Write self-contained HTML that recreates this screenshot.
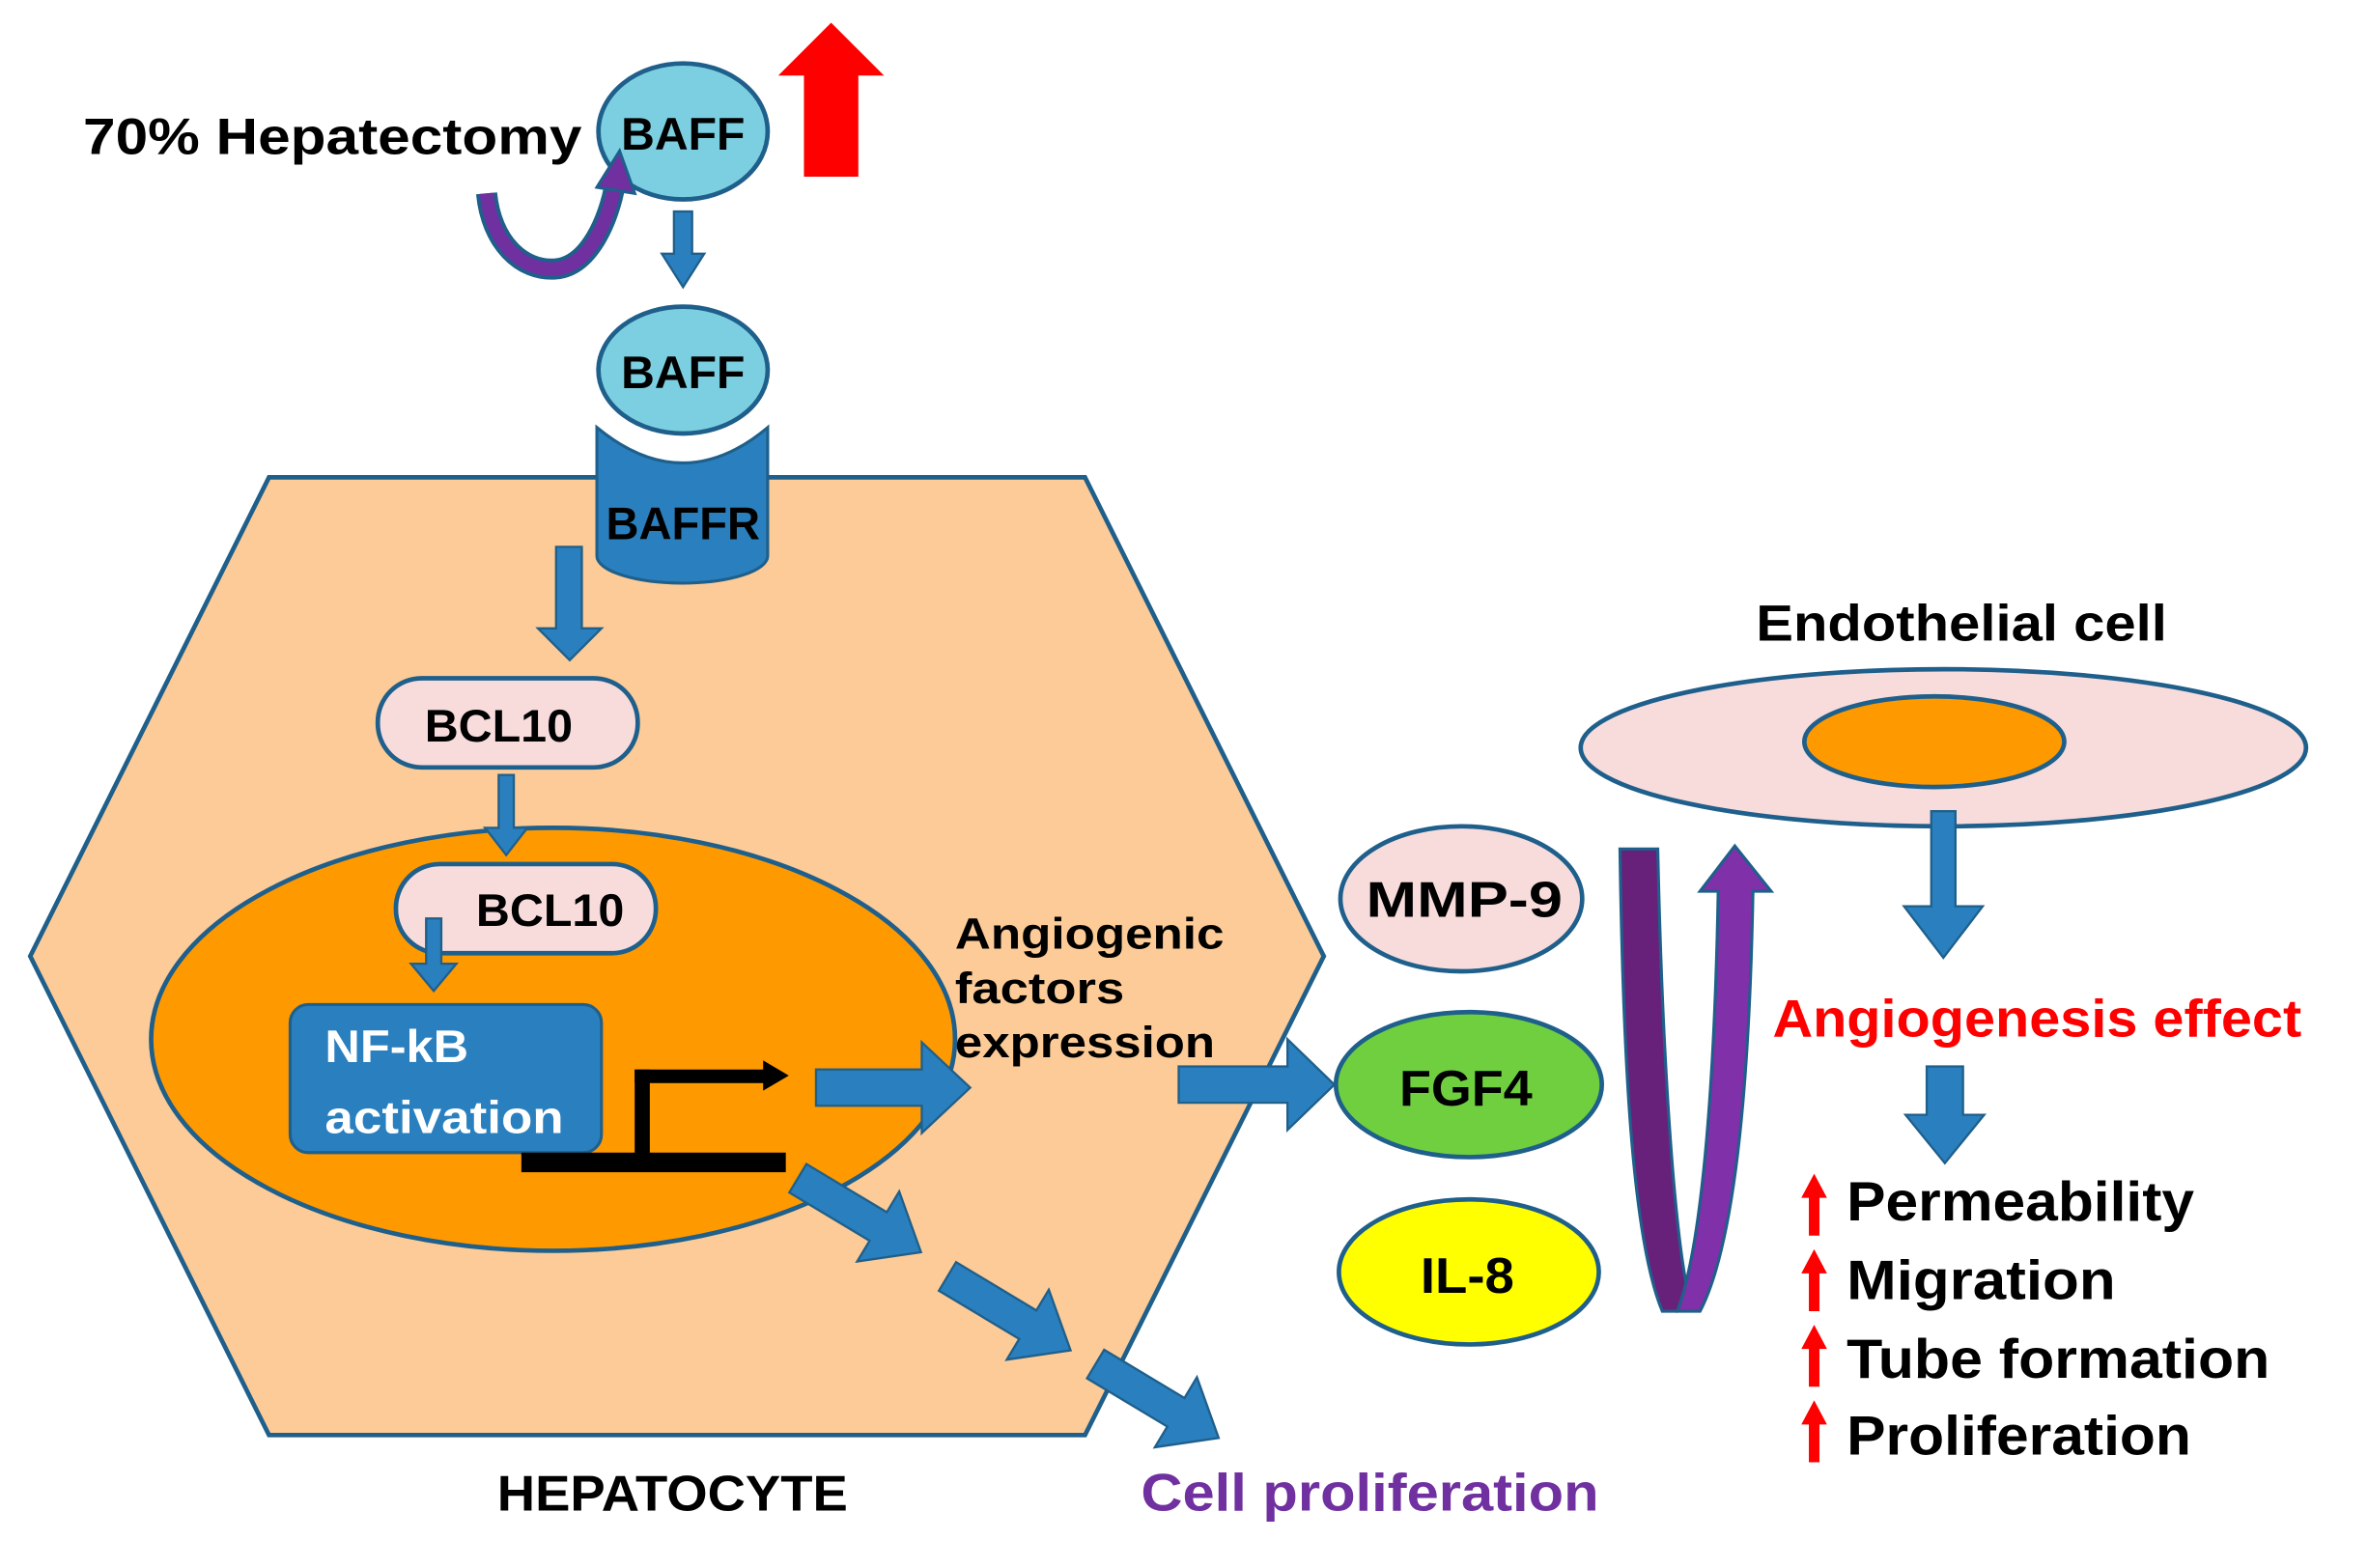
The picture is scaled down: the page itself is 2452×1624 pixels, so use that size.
<!DOCTYPE html>
<html><head><meta charset="utf-8"><style>
html,body{margin:0;padding:0;background:#fff;}
svg{display:block;}
text{font-family:"Liberation Sans",sans-serif;font-weight:bold;}
</style></head><body>
<svg width="2452" height="1624" viewBox="0 0 1567 1038" preserveAspectRatio="none" xmlns="http://www.w3.org/2000/svg">
<!-- hexagon -->
<polygon points="178,316 718,316 876,633 718,950 178,950 20,633" fill="#fccb97" stroke="#1f5f8b" stroke-width="3"/>
<!-- top text -->
<text x="55" y="102" font-size="34" textLength="330" lengthAdjust="spacingAndGlyphs">70% Hepatectomy</text>
<!-- BAFF top -->
<ellipse cx="452" cy="87" rx="56" ry="45" fill="#7ccfe0" stroke="#1f5f8b" stroke-width="3"/>
<text x="452" y="99" font-size="30" text-anchor="middle" textLength="82" lengthAdjust="spacingAndGlyphs">BAFF</text>
<!-- red arrow -->
<polygon points="532,117 568,117 568,50 585,50 550,15 515,50 532,50" fill="#ff0000"/>
<!-- purple curved arrow -->
<path d="M322,128 C325,160 345,180 368,178 C390,176 403,145 407,122" fill="none" stroke="#1f5f8b" stroke-width="14"/>
<path d="M322,128 C325,160 345,180 368,178 C390,176 403,145 407,122" fill="none" stroke="#7030a0" stroke-width="9"/>
<polygon points="395,124 410,100 420,128" fill="#7030a0" stroke="#1f5f8b" stroke-width="2"/>
<!-- arrow down -->
<polygon points="446,140 458,140 458,168 466,168 452,190 438,168 446,168" fill="#2a80bf" stroke="#1f5f8b" stroke-width="1.5"/>
<!-- BAFFR cylinder -->
<path d="M395,283 Q452,330 508,283 L508,368 A56.5,18 0 0 1 395,368 Z" fill="#2a80bf" stroke="#1f5f8b" stroke-width="2"/>
<text x="452" y="357" font-size="30" text-anchor="middle" textLength="102" lengthAdjust="spacingAndGlyphs">BAFFR</text>
<!-- BAFF 2 -->
<ellipse cx="452" cy="248" rx="62" ry="48" fill="#fff"/>
<ellipse cx="452" cy="245" rx="56" ry="42" fill="#7ccfe0" stroke="#1f5f8b" stroke-width="3"/>
<text x="452" y="257" font-size="30" text-anchor="middle" textLength="82" lengthAdjust="spacingAndGlyphs">BAFF</text>
<!-- arrow to BCL10 -->
<polygon points="368,362 385,362 385,416 398,416 377,437 356,416 368,416" fill="#2a80bf" stroke="#1f5f8b" stroke-width="1.5"/>
<rect x="250" y="449" width="172" height="59" rx="29" fill="#f8dcdc" stroke="#1f5f8b" stroke-width="3"/>
<text x="330" y="491" font-size="30" text-anchor="middle" textLength="98" lengthAdjust="spacingAndGlyphs">BCL10</text>
<!-- nucleus -->
<ellipse cx="366" cy="688" rx="266" ry="140" fill="#ff9900" stroke="#1f5f8b" stroke-width="3"/>
<polygon points="330,513 340,513 340,548 349,548 335,566 321,548 330,548" fill="#2a80bf" stroke="#1f5f8b" stroke-width="1.5"/>
<rect x="262" y="572" width="172" height="59" rx="29" fill="#f8dcdc" stroke="#1f5f8b" stroke-width="3"/>
<text x="364" y="613" font-size="30" text-anchor="middle" textLength="98" lengthAdjust="spacingAndGlyphs">BCL10</text>
<polygon points="282,608 292,608 292,638 302,638 287,656 272,638 282,638" fill="#2a80bf" stroke="#1f5f8b" stroke-width="1.5"/>
<rect x="192" y="665" width="206" height="98" rx="12" fill="#2a80bf" stroke="#1f5f8b" stroke-width="2"/>
<text x="215" y="703" font-size="30" fill="#fff" textLength="95" lengthAdjust="spacingAndGlyphs">NF-kB</text>
<text x="215" y="750" font-size="30" fill="#fff" textLength="158" lengthAdjust="spacingAndGlyphs">activation</text>
<!-- promoter -->
<rect x="345" y="763" width="175" height="13" fill="#000"/>
<rect x="420" y="708" width="10" height="60" fill="#000"/>
<rect x="420" y="708" width="88" height="9" fill="#000"/>
<polygon points="505,702 522,712 505,722" fill="#000"/>
<!-- arrow right -->
<polygon points="540,708 610,708 610,690 642,720 610,750 610,732 540,732" fill="#2a80bf" stroke="#1f5f8b" stroke-width="1.5"/>
<text font-size="29" textLength="178" lengthAdjust="spacingAndGlyphs" x="632" y="628">Angiogenic</text>
<text font-size="29" textLength="112" lengthAdjust="spacingAndGlyphs" x="632" y="664">factors</text>
<text font-size="29" textLength="172" lengthAdjust="spacingAndGlyphs" x="632" y="700">expression</text>
<polygon points="780,706 852,706 852,688 883,718 852,748 852,730 780,730" fill="#2a80bf" stroke="#1f5f8b" stroke-width="1.5"/>
<!-- diagonal arrows -->
<g fill="#2a80bf" stroke="#1f5f8b" stroke-width="1.5">
<polygon points="0,-11 62,-11 62,-27 95,0 62,27 62,11 0,11" transform="translate(528,780) rotate(31)"/>
<polygon points="0,-11 62,-11 62,-27 95,0 62,27 62,11 0,11" transform="translate(627,845) rotate(31)"/>
<polygon points="0,-11 62,-11 62,-27 95,0 62,27 62,11 0,11" transform="translate(725,903) rotate(31)"/>
</g>
<text x="445" y="1000" font-size="33" text-anchor="middle" textLength="232" lengthAdjust="spacingAndGlyphs">HEPATOCYTE</text>
<text x="755" y="1000" font-size="35" fill="#7030a0" textLength="303" lengthAdjust="spacingAndGlyphs">Cell proliferation</text>
<!-- factors -->
<ellipse cx="967" cy="595" rx="80" ry="48" fill="#f8dcdc" stroke="#1f5f8b" stroke-width="3"/>
<text x="969" y="607" font-size="33" text-anchor="middle" textLength="130" lengthAdjust="spacingAndGlyphs">MMP-9</text>
<ellipse cx="972" cy="718" rx="88" ry="48" fill="#6fcf3f" stroke="#1f5f8b" stroke-width="3"/>
<text x="970" y="732" font-size="33" text-anchor="middle" textLength="88" lengthAdjust="spacingAndGlyphs">FGF4</text>
<ellipse cx="972" cy="842" rx="86" ry="48" fill="#ffff00" stroke="#1f5f8b" stroke-width="3"/>
<text x="971" y="856" font-size="33" text-anchor="middle" textLength="62" lengthAdjust="spacingAndGlyphs">IL-8</text>
<!-- U arrow -->
<path d="M1072,562 L1097,562 C1100,700 1108,820 1118,860 L1110,868 L1100,868 C1080,820 1074,700 1072,562 Z" fill="#68217a" stroke="#1f5f8b" stroke-width="2"/>
<path d="M1110,868 C1128,820 1135,700 1137,590 L1125,590 L1148,560 L1172,590 L1160,590 C1158,700 1150,820 1125,868 Z" fill="#8030a8" stroke="#1f5f8b" stroke-width="2"/>
<!-- endothelial -->
<text x="1298" y="424" font-size="34" text-anchor="middle" textLength="272" lengthAdjust="spacingAndGlyphs">Endothelial cell</text>
<ellipse cx="1286" cy="495" rx="240" ry="52" fill="#f8dcdc" stroke="#1f5f8b" stroke-width="3"/>
<ellipse cx="1280" cy="491" rx="86" ry="30" fill="#ff9900" stroke="#1f5f8b" stroke-width="3"/>
<polygon points="1278,537 1294,537 1294,600 1312,600 1286,634 1260,600 1278,600" fill="#2a80bf" stroke="#1f5f8b" stroke-width="1.5"/>
<text x="1173" y="686" font-size="35" fill="#ff0000" textLength="350" lengthAdjust="spacingAndGlyphs">Angiogenesis effect</text>
<polygon points="1275,706 1299,706 1299,738 1313,738 1287,770 1261,738 1275,738" fill="#2a80bf" stroke="#1f5f8b" stroke-width="1.5"/>
<!-- list -->
<g fill="#ff0000">
<polygon points="1197,818 1204,818 1204,793 1209,793 1200.5,777 1192,793 1197,793"/>
<polygon points="1197,868 1204,868 1204,843 1209,843 1200.5,827 1192,843 1197,843"/>
<polygon points="1197,918 1204,918 1204,893 1209,893 1200.5,877 1192,893 1197,893"/>
<polygon points="1197,968 1204,968 1204,943 1209,943 1200.5,927 1192,943 1197,943"/>
</g>
<text x="1222" y="808" font-size="37" textLength="230" lengthAdjust="spacingAndGlyphs">Permeability</text>
<text x="1222" y="860" font-size="37" textLength="178" lengthAdjust="spacingAndGlyphs">Migration</text>
<text x="1222" y="912" font-size="37" textLength="280" lengthAdjust="spacingAndGlyphs">Tube formation</text>
<text x="1222" y="963" font-size="37" textLength="228" lengthAdjust="spacingAndGlyphs">Proliferation</text>
</svg>
</body></html>
